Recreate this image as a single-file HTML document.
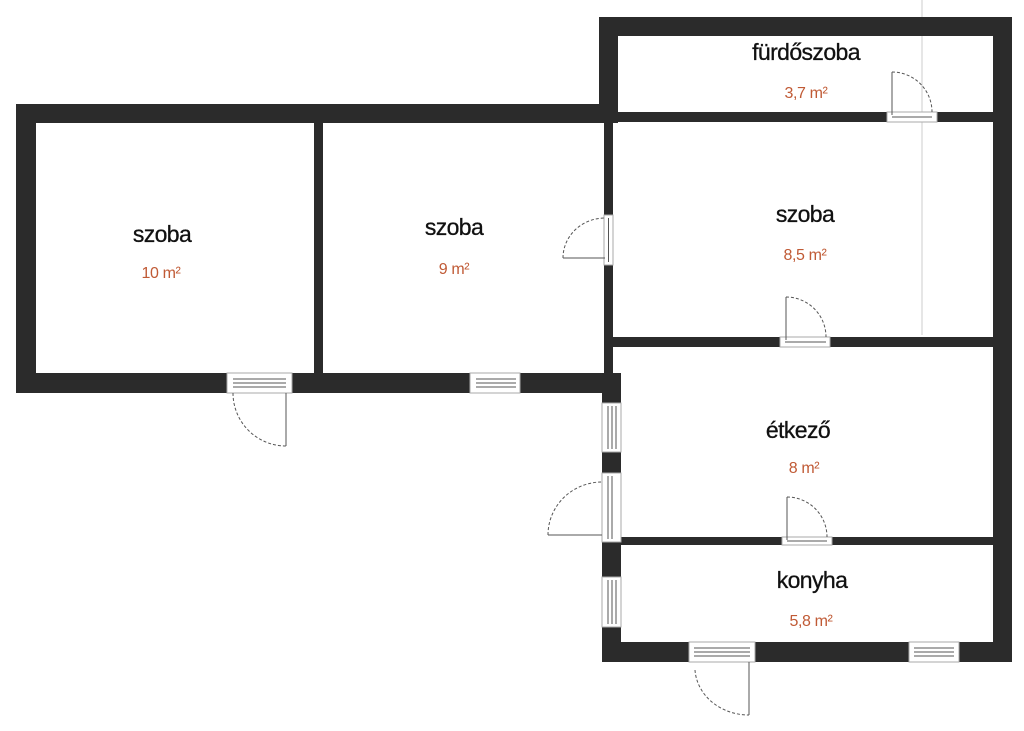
<!DOCTYPE html>
<html><head><meta charset="utf-8"><style>
html,body{margin:0;padding:0;background:#fff;}
svg{display:block}
.t{font-family:"Liberation Sans",sans-serif;fill:#111;font-size:23px;text-anchor:middle;letter-spacing:-0.6px;stroke:#111;stroke-width:0.3}
.a{font-family:"Liberation Sans",sans-serif;fill:#c05a35;font-size:16px;text-anchor:middle;letter-spacing:-0.4px}
.w{fill:#2b2b2b}
.win{fill:#fff;stroke:#aaa;stroke-width:1}
.l{stroke:#555;stroke-width:1;fill:none}
.d{stroke:#555;stroke-width:1;fill:none;stroke-dasharray:3 2}
</style></head><body>
<svg width="1024" height="731" viewBox="0 0 1024 731">
<line x1="922" y1="0" x2="922" y2="335" stroke="#ccc" stroke-width="1"/>
<rect class="w" x="16" y="104" width="597" height="19"/>
<rect class="w" x="16" y="104" width="20" height="289"/>
<rect class="w" x="16" y="373" width="605" height="20"/>
<rect class="w" x="314" y="104" width="9" height="289"/>
<rect class="w" x="599" y="17" width="413" height="19"/>
<rect class="w" x="599" y="17" width="19" height="106"/>
<rect class="w" x="993" y="17" width="19" height="645"/>
<rect class="w" x="604" y="112" width="408" height="10"/>
<rect class="w" x="604" y="112" width="9" height="270"/>
<rect class="w" x="604" y="337" width="408" height="10"/>
<rect class="w" x="602" y="373" width="19" height="289"/>
<rect class="w" x="602" y="537" width="410" height="8"/>
<rect class="w" x="602" y="642" width="410" height="20"/>

<rect class="win" x="227" y="373" width="65" height="20"/>
<line class="l" x1="233" y1="379" x2="286" y2="379"/><line class="l" x1="233" y1="383" x2="286" y2="383"/><line class="l" x1="233" y1="387" x2="286" y2="387"/>
<rect class="win" x="470" y="373" width="50" height="20"/>
<line class="l" x1="476" y1="379" x2="516" y2="379"/><line class="l" x1="476" y1="383" x2="516" y2="383"/><line class="l" x1="476" y1="387" x2="516" y2="387"/>
<rect class="win" x="887" y="112" width="50" height="10"/>
<line class="l" x1="892" y1="117" x2="932" y2="117"/>
<rect class="win" x="604" y="215" width="9" height="50"/>
<line class="l" x1="608.5" y1="218" x2="608.5" y2="262"/>
<rect class="win" x="780" y="337" width="50" height="10"/>
<line class="l" x1="785" y1="342" x2="826" y2="342"/>
<rect class="win" x="602" y="403" width="19" height="49"/>
<line class="l" x1="608" y1="406" x2="608" y2="449"/><line class="l" x1="612" y1="406" x2="612" y2="449"/><line class="l" x1="616" y1="406" x2="616" y2="449"/>
<rect class="win" x="602" y="473" width="19" height="69"/>
<line class="l" x1="608" y1="476" x2="608" y2="539"/><line class="l" x1="612" y1="476" x2="612" y2="539"/>
<rect class="win" x="602" y="577" width="19" height="50"/>
<line class="l" x1="608" y1="580" x2="608" y2="624"/><line class="l" x1="612" y1="580" x2="612" y2="624"/><line class="l" x1="616" y1="580" x2="616" y2="624"/>
<rect class="win" x="782" y="537" width="50" height="8"/>
<line class="l" x1="787" y1="541" x2="827" y2="541"/>
<rect class="win" x="689" y="642" width="66" height="20"/>
<line class="l" x1="694" y1="648" x2="750" y2="648"/><line class="l" x1="694" y1="652" x2="750" y2="652"/><line class="l" x1="694" y1="656" x2="750" y2="656"/>
<rect class="win" x="909" y="642" width="50" height="20"/>
<line class="l" x1="914" y1="648" x2="954" y2="648"/><line class="l" x1="914" y1="652" x2="954" y2="652"/><line class="l" x1="914" y1="656" x2="954" y2="656"/>

<line class="l" x1="286" y1="393" x2="286" y2="446"/><path class="d" d="M233 393 A53 53 0 0 0 286 446"/>
<line class="l" x1="892" y1="72" x2="892" y2="115"/><path class="d" d="M892 72 A40 40 0 0 1 932 112"/>
<line class="l" x1="563" y1="258" x2="605" y2="258"/><path class="d" d="M563 258 A42 40 0 0 1 605 218"/>
<line class="l" x1="786" y1="297" x2="786" y2="340"/><path class="d" d="M786 297 A40 40 0 0 1 826 337"/>
<line class="l" x1="548" y1="535" x2="602" y2="535"/><path class="d" d="M548 535 A54 53 0 0 1 602 482"/>
<line class="l" x1="787" y1="497" x2="787" y2="540"/><path class="d" d="M787 497 A40 40 0 0 1 827 537"/>
<line class="l" x1="749" y1="662" x2="749" y2="715"/><path class="d" d="M695 670 A54 48 0 0 0 749 715"/>

<text class="t" x="162" y="242">szoba</text><text class="a" x="161" y="278">10 m²</text>
<text class="t" x="454" y="235">szoba</text><text class="a" x="454" y="274">9 m²</text>
<text class="t" x="806" y="60">fürdőszoba</text><text class="a" x="806" y="98">3,7 m²</text>
<text class="t" x="805" y="222">szoba</text><text class="a" x="805" y="260">8,5 m²</text>
<text class="t" x="798" y="438">étkező</text><text class="a" x="804" y="473">8 m²</text>
<text class="t" x="812" y="588">konyha</text><text class="a" x="811" y="626">5,8 m²</text>
</svg>
</body></html>
